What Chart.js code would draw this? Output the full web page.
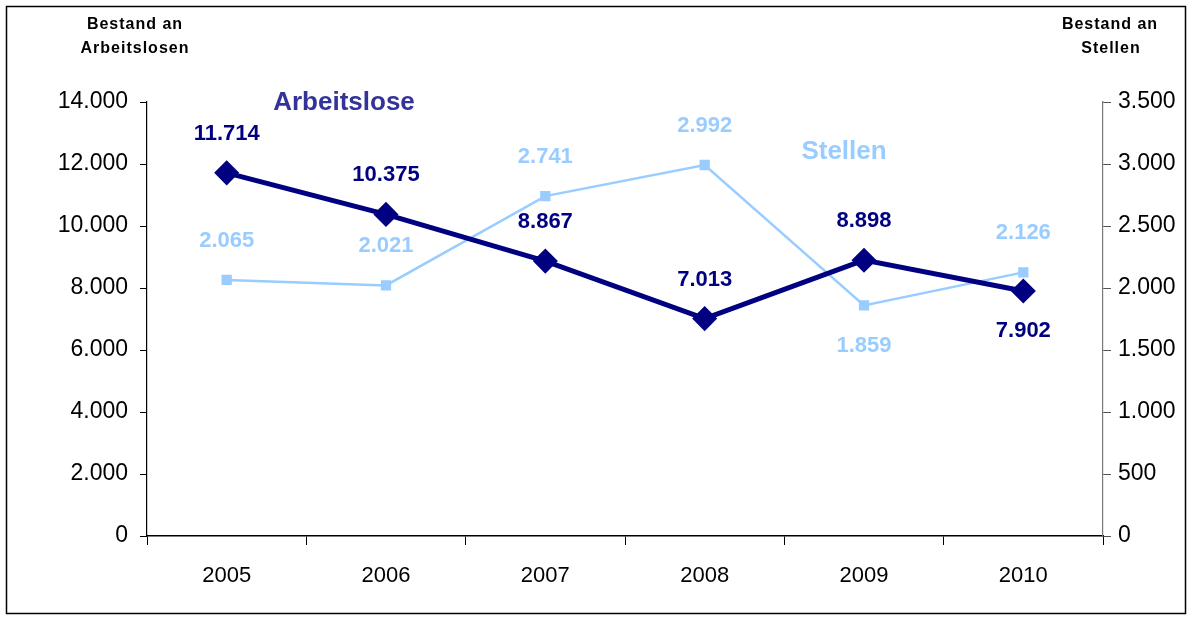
<!DOCTYPE html>
<html>
<head>
<meta charset="utf-8">
<script src="https://cdn.jsdelivr.net/npm/chart.js@4"></script>
<style>
  html, body { margin: 0; padding: 0; background: #fff; }
  #wrap { width: 1192px; height: 617px; }
</style>
</head>
<body>
<div id="wrap"><canvas id="chart" width="1192" height="617"></canvas></div>
<script>
const years = ["2005", "2006", "2007", "2008", "2009", "2010"];
const arbeitslose = [11714, 10375, 8867, 7013, 8898, 7902];
const stellen = [2065, 2021, 2741, 2992, 1859, 2126];
// label above (-1) or below (+1) each point
const arbeitsloseSide = [-1, -1, -1, -1, -1, 1];
const stellenSide = [-1, -1, -1, -1, 1, -1];

const navy = "#000080";
const lightBlue = "#99CCFF";
const font = "'Liberation Sans', Arial, sans-serif";

function fmt(v) {
    return String(v).replace(/\B(?=(\d{3})+(?!\d))/g, ".");
}

const sides = [arbeitsloseSide, stellenSide];
const labelColors = [navy, lightBlue];

const extras = {
    id: "extras",
    beforeDraw(chart) {
        const c = chart.ctx;
        c.save();
        c.fillStyle = "#fff";
        c.fillRect(0, 0, chart.width, chart.height);
        c.strokeStyle = "#000";
        c.lineWidth = 1.5;
        c.strokeRect(6.5, 6.5, 1179, 607);
        c.restore();
    },
    afterDatasetsDraw(chart) {
        const c = chart.ctx;
        const area = chart.chartArea;
        c.save();
        c.textAlign = "center";
        c.textBaseline = "middle";
        c.font = "bold 22px " + font;
        chart.data.datasets.forEach((ds, i) => {
            const meta = chart.getDatasetMeta(i);
            c.fillStyle = labelColors[i];
            meta.data.forEach((pt, j) => {
                const off = sides[i][j] < 0 ? -39 : 40;
                c.fillText(fmt(ds.data[j]), pt.x, pt.y + off);
            });
        });

        // series names inside the plot
        c.font = "bold 26px " + font;
        c.fillStyle = "#333399";
        c.fillText("Arbeitslose", area.left + 197, area.top + 1);
        c.fillStyle = lightBlue;
        c.fillText("Stellen", area.left + 697, area.top + 50);

        // axis titles
        c.font = "bold 16px " + font;
        c.fillStyle = "#000";
        c.letterSpacing = "1px";
        c.fillText("Bestand an", 135, 25);
        c.fillText("Arbeitslosen", 135, 49);
        c.fillText("Bestand an", 1110, 25);
        c.fillText("Stellen", 1111, 49);
        c.restore();
    }
};

new Chart(document.getElementById("chart"), {
    type: "line",
    data: {
        labels: years,
        datasets: [
            {
                label: "Arbeitslose",
                data: arbeitslose,
                yAxisID: "y",
                borderColor: navy,
                backgroundColor: navy,
                borderWidth: 5,
                pointStyle: "rectRot",
                pointRadius: 9,
                pointHoverRadius: 9,
                tension: 0
            },
            {
                label: "Stellen",
                data: stellen,
                yAxisID: "y1",
                borderColor: lightBlue,
                backgroundColor: lightBlue,
                borderWidth: 2.5,
                pointStyle: "rect",
                pointRadius: 5.5,
                pointHoverRadius: 5.5,
                tension: 0
            }
        ]
    },
    options: {
        responsive: false,
        animation: false,
        devicePixelRatio: 1,
        layout: { padding: { top: 102, left: 0, right: 0, bottom: 0 } },
        plugins: {
            legend: { display: false },
            tooltip: { enabled: false }
        },
        scales: {
            x: {
                offset: true,
                grid: {
                    offset: true,
                    drawOnChartArea: false,
                    drawTicks: true,
                    tickLength: 9,
                    color: "#000"
                },
                border: { color: "#000", width: 1.5 },
                ticks: {
                    color: "#000",
                    padding: 18,
                    font: { family: font, size: 22 }
                },
                afterFit(s) { s.height = 81; }
            },
            y: {
                position: "left",
                min: 0,
                max: 14000,
                grid: {
                    drawOnChartArea: false,
                    tickLength: 7,
                    color: "#000"
                },
                border: { color: "#000", width: 1.2 },
                ticks: {
                    stepSize: 2000,
                    color: "#000",
                    padding: 12,
                    font: { family: font, size: 23 },
                    callback: v => fmt(v)
                },
                afterFit(s) { s.width = 147; }
            },
            y1: {
                position: "right",
                min: 0,
                max: 3500,
                grid: {
                    drawOnChartArea: false,
                    tickLength: 8,
                    color: "#555"
                },
                border: { color: "#777", width: 1.2 },
                ticks: {
                    stepSize: 500,
                    color: "#000",
                    padding: 7,
                    font: { family: font, size: 23 },
                    callback: v => fmt(v)
                },
                afterFit(s) { s.width = 89; }
            }
        }
    },
    plugins: [extras]
});
</script>
</body>
</html>
